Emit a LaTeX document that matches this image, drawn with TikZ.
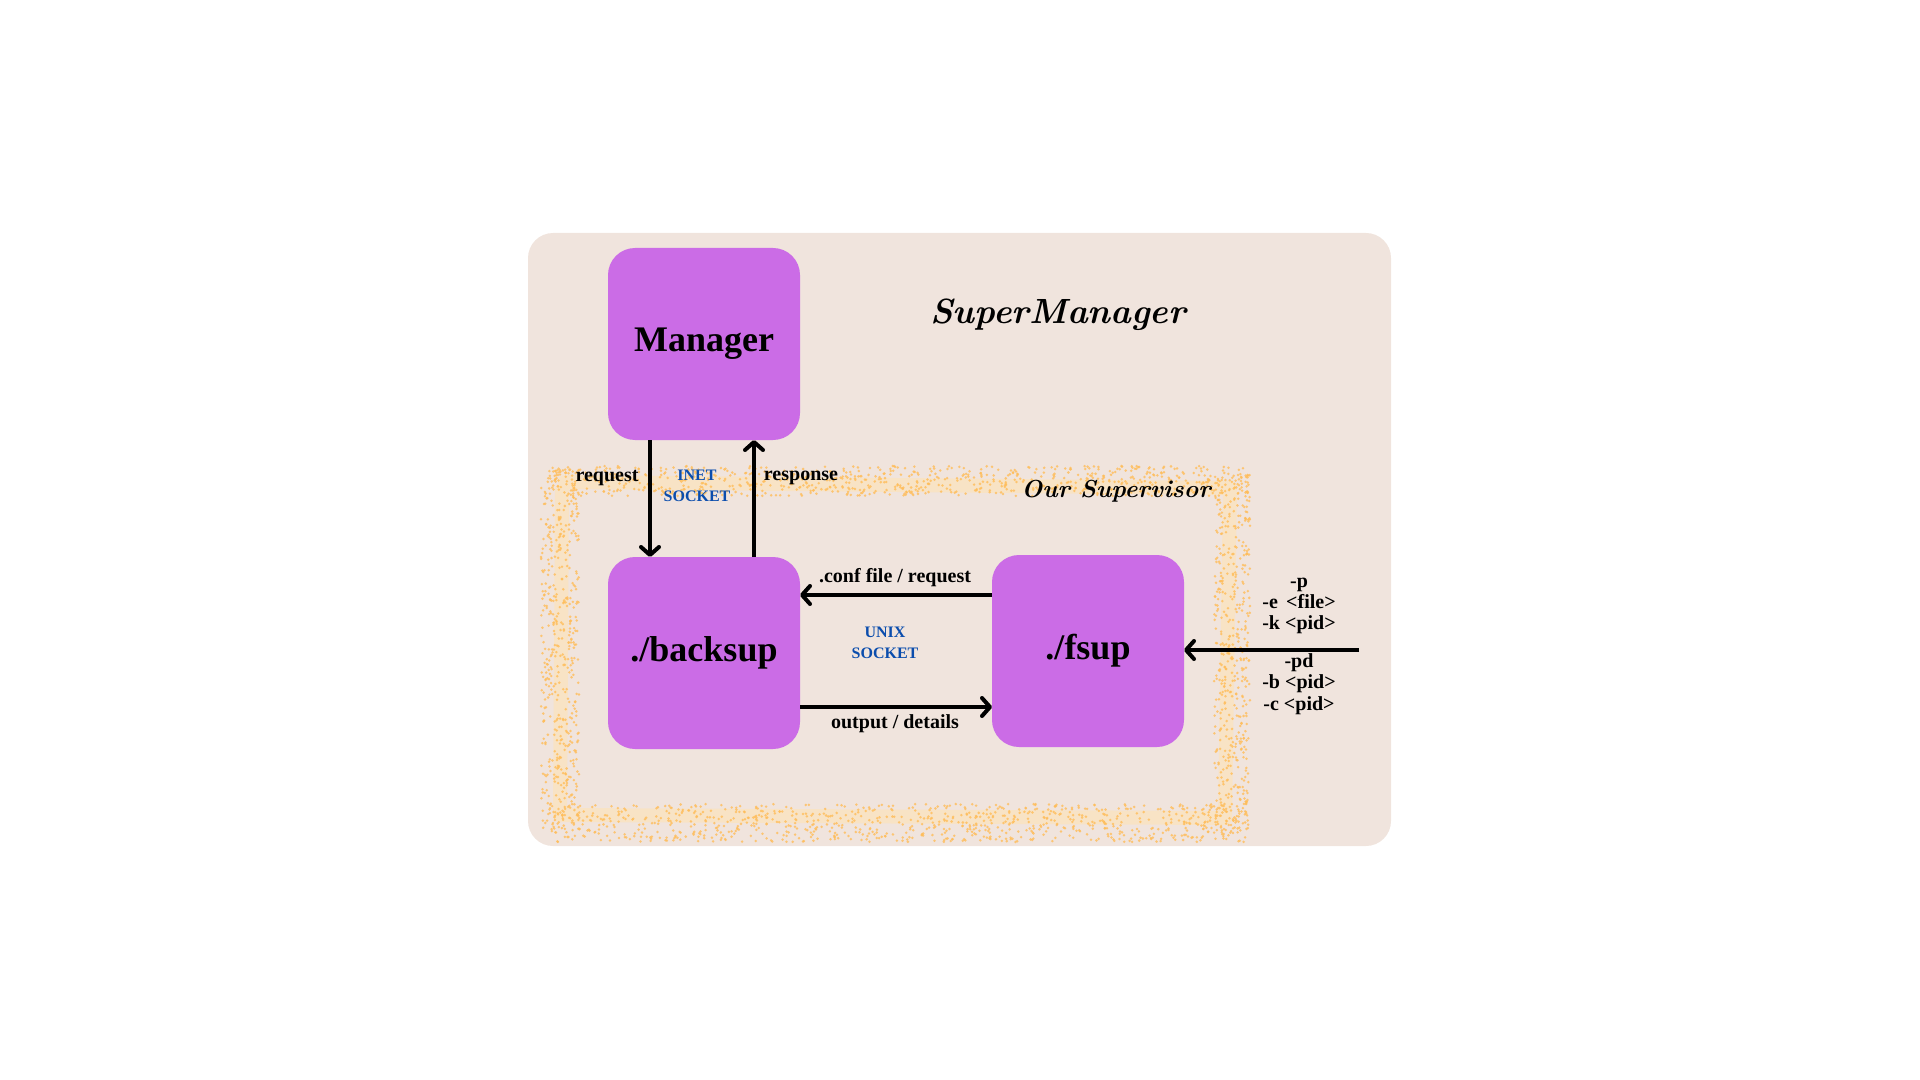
\documentclass[tikz,border=0pt]{standalone}
\usepackage{fontspec}
\newfontfamily\boxfont{Liberation Serif}
\usepackage{xcolor}
\definecolor{bgbeige}{HTML}{F0E4DD}
\definecolor{boxpurple}{HTML}{CB6CE6}
\definecolor{sockblue}{HTML}{0B4DAD}
\definecolor{speckle}{HTML}{FFBD59}
\definecolor{chalk}{HTML}{FFE3B3}
\usetikzlibrary{arrows.meta,positioning}

\begin{document}
\begin{tikzpicture}[x=0.5pt,y=-0.5pt,->,>={Straight Barb[length=4pt,width=9pt,round]},line width=2pt,node distance=58.5pt]
            \tikzstyle{box}=[rectangle,rounded corners=13.5pt,fill=boxpurple,minimum width=96pt,minimum height=96pt,inner sep=0pt,outer sep=0pt,font=\boxfont\bfseries\fontsize{18}{20}\selectfont]
            \tikzstyle{lbl}=[inner sep=1pt,font=\boxfont\bfseries\fontsize{10}{10.7}\selectfont,align=center]
            \tikzstyle{sock}=[lbl,text=sockblue,font=\boxfont\bfseries\fontsize{8}{10.5}\selectfont]
            \tikzstyle{fancy}=[inner sep=1pt]
            \tikzstyle{dot}=[speckle,opacity=0.8]

            \useasboundingbox (0,0) rectangle (1920,1080);
            \fill[bgbeige,rounded corners=12.5pt] (528,233) rectangle (1391,846);

            % chalky frame round the supervisor
            \draw[-,chalk,opacity=0.55,line width=7pt,line cap=round,line join=round]
                (562,490) -- (560,815) -- (1225,818) -- (1230,488) -- (565,482);
            \pgfmathsetseed{4}
            \foreach \i in {1,...,800}{
                \pgfmathsetmacro\px{548+700*rnd}
                \pgfmathsetmacro\py{481+15*rand}
                \fill[dot] (\px,\py) circle (0.7pt);
            }
            \foreach \i in {1,...,900}{
                \pgfmathsetmacro\px{548+700*rnd}
                \pgfmathsetmacro\py{823+19*rand}
                \fill[dot] (\px,\py) circle (0.7pt);
            }
            \foreach \i in {1,...,500}{
                \pgfmathsetmacro\px{560+19*rand}
                \pgfmathsetmacro\py{470+360*rnd}
                \fill[dot] (\px,\py) circle (0.7pt);
            }
            \foreach \i in {1,...,500}{
                \pgfmathsetmacro\px{1232+18*rand}
                \pgfmathsetmacro\py{475+360*rnd}
                \fill[dot] (\px,\py) circle (0.7pt);
            }

            \node[box] (manager) at (704,344) {Manager};
            \node[box] (backsup) [below=of manager] {./backsup};
            \node[box] (fsup)    [right=96pt of backsup,yshift=1pt] {./fsup};

            \node[fancy,font=\bfseries\itshape\fontsize{17.5}{22}\selectfont] (title) at (1058,315) {SuperManager};
            \node[fancy,font=\bfseries\itshape\fontsize{12.3}{16}\selectfont] (super) at (1116,491) {Our Supervisor};

            \node[lbl]  (req)  at (607,478) {request};
            \node[sock] (inet) at (697,486) {INET\\SOCKET};
            \node[lbl]  (resp) at (801,478) {response};
            \node[lbl]  (conf) at (895,578) {.conf file / request};
            \node[sock] (unix) at (885,643) {UNIX\\SOCKET};
            \node[lbl]  (out)  at (895,724) {output / details};
            \node[lbl]  (opta) at (1299,606) {-p\\-e \,<file>\\-k <pid>};
            \node[lbl]  (optb) at (1299,684) {-pd\\-b <pid>\\-c <pid>};
            \coordinate (cli) at (1359,650);

            \draw ([xshift=-27pt]manager.south) -- ([xshift=-27pt]manager.south |- backsup.north);
            \draw ([xshift=25pt]backsup.north) -- ([xshift=25pt]backsup.north |- manager.south);
            \draw ([yshift=28pt]fsup.west) -- ([yshift=28pt]fsup.west -| backsup.east);
            \draw ([yshift=-27pt]backsup.east) -- ([yshift=-27pt]backsup.east -| fsup.west);
            \draw (cli) -- (cli -| fsup.east);

        \end{tikzpicture}
\end{document}
